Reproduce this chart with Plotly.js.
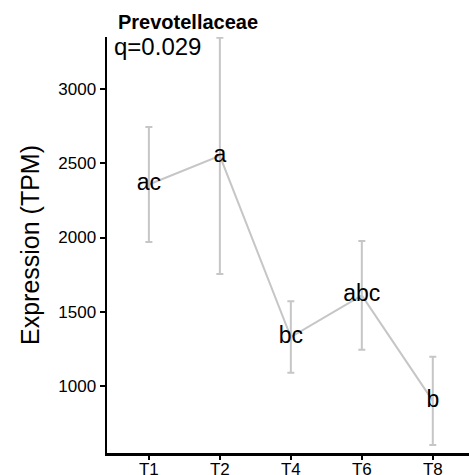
<!DOCTYPE html>
<html>
<head>
<meta charset="utf-8">
<script src="https://cdn.plot.ly/plotly-3.0.1.min.js"></script>
<style>html,body{margin:0;padding:0;background:#fff;}#chart{width:469px;height:475px;}</style>
</head>
<body>
<div id="chart"></div>
<script>
const categories = ["T1", "T2", "T4", "T6", "T8"];
const meanTPM = [2357, 2550, 1330, 1610, 900];
const errTPM = [387, 795, 240, 366, 297];
const groupLetters = ["ac", "a", "bc", "abc", "b"];
const yTicks = [1000, 1500, 2000, 2500, 3000];
const titleText = "Prevotellaceae";
const qText = "q=0.029";

const trace = {
  x: categories,
  y: meanTPM,
  type: "scatter",
  mode: "lines+text",
  text: groupLetters,
  textposition: "middle center",
  textfont: {family: "Liberation Sans, Arial, sans-serif", size: 23, color: "#000"},
  line: {color: "#c6c6c6", width: 2},
  error_y: {type: "data", array: errTPM, color: "#c6c6c6", thickness: 2, width: 3.5},
  cliponaxis: false,
  hoverinfo: "skip"
};

const layout = {
  width: 469, height: 475,
  margin: {l: 107, r: 0, t: 37, b: 22},
  paper_bgcolor: "#fff", plot_bgcolor: "#fff",
  showlegend: false,
  font: {family: "Liberation Sans, Arial, sans-serif", color: "#000"},
  xaxis: {
    type: "category", range: [-0.59, 4.51],
    showline: true, linecolor: "#000", linewidth: 2.5,
    ticks: "outside", ticklen: 4, tickwidth: 2, tickcolor: "#000",
    showgrid: false, zeroline: false,
    ticklabelstandoff: -5,
    tickfont: {size: 17, color: "#000"}
  },
  yaxis: {
    range: [549, 3350],
    tickvals: yTicks, ticktext: yTicks.map(String),
    showline: true, linecolor: "#000", linewidth: 2.5,
    ticks: "outside", ticklen: 5, tickwidth: 2, tickcolor: "#000",
    showgrid: false, zeroline: false,
    tickfont: {size: 17, color: "#000"},
    title: {text: "Expression (TPM)", font: {size: 25, color: "#000"}, standoff: 12}
  },
  annotations: [
    {text: "<b>" + titleText + "</b>", xref: "paper", yref: "paper", x: 0.026, y: 1.036, xanchor: "left", yanchor: "middle", showarrow: false, font: {size: 20, color: "#000"}},
    {text: qText, xref: "paper", yref: "paper", x: 0.013, y: 0.978, xanchor: "left", yanchor: "middle", showarrow: false, font: {size: 24, color: "#000"}}
  ]
};

Plotly.newPlot("chart", [trace], layout, {displayModeBar: false, staticPlot: true});
</script>
</body>
</html>
